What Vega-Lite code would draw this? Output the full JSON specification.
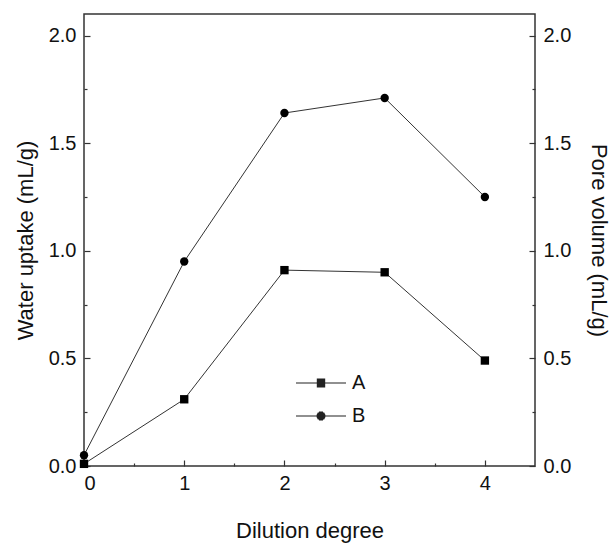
{
  "$schema": "https://vega.github.io/schema/vega-lite/v6.json",
  "width": 451,
  "height": 452,
  "autosize": "none",
  "padding": {"left": 84, "top": 14, "right": 78, "bottom": 78},
  "background": "white",
  "config": {
    "font": "Liberation Sans",
    "view": {"stroke": "#333333", "strokeWidth": 1.5},
    "axis": {
      "domain": false,
      "grid": false,
      "ticks": true,
      "tickColor": "#333333",
      "tickWidth": 1.2,
      "labelFontSize": 20,
      "labelColor": "#111111",
      "titleFontSize": 22,
      "titleFontWeight": "normal",
      "titleColor": "#111111"
    }
  },
  "data": {
    "values": [
      {"dilution": 0, "value": 0.01, "series": "A"},
      {"dilution": 1, "value": 0.31, "series": "A"},
      {"dilution": 2, "value": 0.91, "series": "A"},
      {"dilution": 3, "value": 0.90, "series": "A"},
      {"dilution": 4, "value": 0.49, "series": "A"},
      {"dilution": 0, "value": 0.05, "series": "B"},
      {"dilution": 1, "value": 0.95, "series": "B"},
      {"dilution": 2, "value": 1.64, "series": "B"},
      {"dilution": 3, "value": 1.71, "series": "B"},
      {"dilution": 4, "value": 1.25, "series": "B"}
    ]
  },
  "layer": [
    {
      "layer": [
        {
          "mark": {"type": "line", "color": "#333333", "strokeWidth": 1},
          "encoding": {
            "x": {
              "field": "dilution", "type": "quantitative",
              "scale": {"domain": [0, 4.5], "nice": false},
              "axis": {
                "title": "Dilution degree",
                "values": [0, 0.5, 1, 1.5, 2, 2.5, 3, 3.5, 4],
                "labelExpr": "datum.value % 1 === 0 ? format(datum.value, 'd') : ''",
                "tickSize": {"condition": {"test": "datum.value % 1 === 0", "value": -6}, "value": -3},
                "labelPadding": 13,
                "titlePadding": 27
              }
            },
            "y": {
              "field": "value", "type": "quantitative",
              "scale": {"domain": [0, 2.1], "nice": false},
              "axis": {
                "title": "Water uptake (mL/g)",
                "orient": "left",
                "values": [0, 0.25, 0.5, 0.75, 1, 1.25, 1.5, 1.75, 2],
                "labelExpr": "datum.value % 0.5 === 0 ? format(datum.value, '.1f') : ''",
                "tickSize": {"condition": {"test": "datum.value % 0.5 === 0", "value": -6}, "value": -3},
                "labelPadding": 14,
                "titlePadding": 11
              }
            },
            "detail": {"field": "series"}
          }
        },
        {
          "mark": {"type": "point", "filled": true, "color": "black", "opacity": 1},
          "encoding": {
            "x": {"field": "dilution", "type": "quantitative"},
            "y": {"field": "value", "type": "quantitative"},
            "shape": {
              "field": "series", "type": "nominal",
              "scale": {"domain": ["A", "B"], "range": ["square", "circle"]},
              "legend": null
            },
            "size": {"value": 70}
          }
        },
        {
          "mark": {"type": "point", "filled": false, "color": "black", "opacity": 0, "strokeWidth": 1},
          "encoding": {
            "x": {"field": "dilution", "type": "quantitative"},
            "y": {"field": "value", "type": "quantitative"},
            "shape": {
              "field": "series", "type": "nominal",
              "scale": {"domain": ["A", "B"], "range": [
                "M-2.5,0H2.5M-0.42,-0.4H0.42M-0.42,-0.3H0.42M-0.42,-0.2H0.42M-0.42,-0.1H0.42M-0.42,0.1H0.42M-0.42,0.2H0.42M-0.42,0.3H0.42M-0.42,0.4H0.42",
                "M-2.5,0H2.5M-0.439,-0.1H0.439M-0.439,0.1H0.439M-0.403,-0.2H0.403M-0.403,0.2H0.403M-0.335,-0.3H0.335M-0.335,0.3H0.335M-0.206,-0.4H0.206M-0.206,0.4H0.206"
              ]},
              "legend": {
                "title": null,
                "orient": "none",
                "legendX": 226,
                "legendY": 358,
                "symbolSize": 400,
                "rowPadding": 12,
                "labelOffset": 20,
                "labelFontSize": 20,
                "labelColor": "#111111",
                "symbolOpacity": 1,
                "symbolStrokeColor": "#222222",
                "symbolStrokeWidth": 1.1,
                "encode": {
                  "symbols": {
                    "update": {
                      "stroke": {"value": "#222222"},
                      "strokeWidth": {"value": 1.1},
                      "opacity": {"value": 1}
                    }
                  }
                }
              }
            },
            "size": {"value": 70}
          }
        }
      ],
      "resolve": {"scale": {"shape": "independent"}}
    },
    {
      "mark": {"type": "point", "opacity": 0},
      "encoding": {
        "x": {"field": "dilution", "type": "quantitative"},
        "y": {
          "field": "value", "type": "quantitative",
          "scale": {"domain": [0, 2.1], "nice": false},
          "axis": {
            "title": "Pore volume (mL/g)",
            "orient": "right",
            "values": [0, 0.25, 0.5, 0.75, 1, 1.25, 1.5, 1.75, 2],
            "labelExpr": "datum.value % 0.5 === 0 ? format(datum.value, '.1f') : ''",
            "tickSize": {"condition": {"test": "datum.value % 0.5 === 0", "value": -6}, "value": -3},
            "labelPadding": 14,
            "titlePadding": 16
          }
        }
      }
    }
  ],
  "resolve": {"scale": {"y": "independent"}, "axis": {"y": "independent"}}
}
